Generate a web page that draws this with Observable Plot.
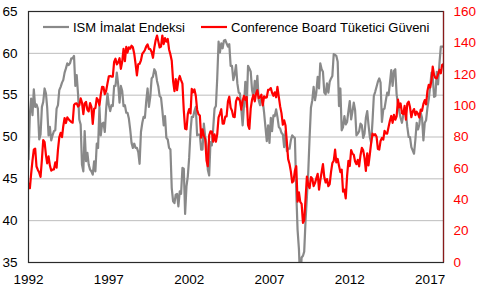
<!DOCTYPE html>
<html>
<head>
<meta charset="utf-8">
<script src="https://cdn.jsdelivr.net/npm/d3@7"></script>
<script src="https://cdn.jsdelivr.net/npm/@observablehq/plot@0.6"></script>
<style>
  html, body { margin: 0; padding: 0; background: #ffffff; }
  #chart { width: 480px; height: 288px; }
</style>
</head>
<body>
<div id="chart"></div>
<script>
// Monthly data, Jan 1992 .. Nov 2017
const startYear = 1992;
const ism = [
  47.3, 52.7, 54.6, 52.6, 55.7, 53.6, 53.9, 53.4, 49.7, 50.3, 53.6, 54.2,
  55.8, 55.2, 53.5, 50.2, 51.2, 49.6, 50.2, 50.7, 50.8, 53.4, 53.8, 55.6,
  56.0, 56.5, 56.8, 57.7, 58.2, 58.8, 58.6, 58.8, 59.4, 59.4, 59.7, 56.1,
  57.4, 55.1, 52.1, 51.5, 46.7, 45.9, 50.7, 47.1, 48.1, 46.7, 46.1, 45.9,
  45.5, 47.1, 45.9, 49.2, 48.7, 53.6, 50.2, 51.6, 51.7, 50.6, 53.4, 55.2,
  53.8, 53.1, 53.8, 53.7, 56.1, 56.1, 57.7, 56.3, 54.1, 56.1, 55.5, 53.7,
  53.8, 52.9, 52.9, 52.2, 50.9, 49.3, 48.7, 49.2, 48.7, 48.7, 48.2, 46.8,
  50.6, 51.7, 52.4, 52.3, 54.3, 55.8, 53.6, 54.8, 57.0, 57.2, 58.1, 57.8,
  56.7, 56.0, 54.9, 54.7, 53.2, 51.4, 52.5, 49.9, 49.7, 48.7, 48.5, 43.9,
  42.3, 42.1, 43.1, 43.2, 41.7, 43.5, 43.2, 46.3, 46.2, 40.8, 44.1, 45.3,
  47.5, 50.7, 52.4, 52.4, 53.1, 53.6, 50.2, 50.3, 50.3, 48.5, 48.5, 51.6,
  50.0, 48.9, 46.1, 45.4, 49.4, 49.0, 51.0, 53.4, 53.7, 57.0, 61.4, 60.1,
  61.2, 60.6, 61.5, 61.6, 61.2, 60.8, 61.1, 58.5, 58.5, 56.8, 57.5, 58.6,
  56.4, 55.3, 55.2, 53.3, 51.4, 53.8, 56.6, 53.6, 58.5, 58.2, 57.8, 55.6,
  54.8, 56.7, 55.2, 57.3, 54.4, 53.8, 54.7, 54.3, 52.9, 51.2, 49.5, 51.4,
  49.3, 52.3, 50.7, 52.6, 52.5, 53.3, 52.4, 51.2, 51.0, 50.5, 50.3, 48.8,
  50.7, 48.3, 48.6, 48.6, 49.6, 50.2, 50.0, 49.9, 43.5, 38.9, 36.6, 32.4,
  35.6, 35.8, 36.3, 40.1, 42.8, 45.8, 49.9, 53.5, 54.4, 56.0, 54.4, 55.3,
  57.2, 55.8, 58.8, 58.1, 57.8, 55.3, 55.1, 56.4, 55.3, 56.6, 57.0, 57.3,
  59.9, 59.8, 59.7, 59.0, 53.7, 55.8, 50.8, 51.2, 52.5, 51.5, 51.8, 53.1,
  54.3, 52.1, 53.0, 54.1, 53.2, 50.2, 50.4, 50.7, 51.6, 51.4, 49.9, 50.4,
  52.3, 53.1, 51.5, 50.0, 49.3, 51.9, 54.9, 55.4, 56.0, 56.6, 57.0, 56.5,
  51.8, 53.3, 53.4, 54.4, 55.3, 55.0, 56.4, 58.0, 56.1, 57.9, 58.1, 55.1,
  53.9, 53.0, 52.3, 51.7, 52.6, 53.2, 52.8, 51.2, 50.0, 50.0, 48.8, 48.4,
  48.0, 49.7, 51.7, 50.9, 51.5, 52.9, 52.3, 49.6, 51.7, 52.0, 53.5, 54.5,
  56.0, 57.7, 57.2, 54.8, 54.9, 57.8, 56.3, 58.8, 60.8, 60.8, 60.8
];
const cb = [
  50.2, 47.3, 56.5, 65.1, 71.9, 72.6, 61.2, 59.0, 57.3, 54.6, 65.6, 78.1,
  76.7, 68.5, 63.2, 67.6, 61.9, 58.6, 59.2, 59.3, 63.8, 60.5, 71.9, 79.8,
  82.6, 79.9, 86.7, 92.1, 88.9, 92.5, 91.3, 90.4, 89.5, 89.1, 100.4, 101.3,
  101.4, 99.4, 100.2, 104.6, 102.0, 94.6, 101.4, 102.4, 97.3, 96.3, 101.6, 99.2,
  88.4, 98.0, 98.4, 104.8, 103.5, 100.1, 107.0, 112.0, 111.8, 107.3, 109.5, 114.2,
  118.7, 118.9, 118.5, 118.5, 127.9, 129.9, 126.3, 127.6, 130.2, 123.4, 128.1, 136.2,
  128.3, 137.4, 133.8, 137.2, 136.3, 138.2, 137.2, 133.1, 126.4, 119.3, 126.4, 126.7,
  128.9, 133.1, 134.0, 135.5, 137.7, 139.0, 136.2, 136.0, 134.2, 130.5, 137.0, 141.7,
  144.7, 140.8, 137.1, 137.7, 144.7, 139.2, 143.0, 140.8, 142.5, 135.8, 132.6, 128.6,
  115.7, 109.2, 116.9, 109.9, 116.1, 118.9, 116.3, 114.0, 97.0, 85.3, 84.9, 94.6,
  97.8, 95.0, 110.7, 108.5, 110.3, 106.3, 97.4, 94.5, 93.7, 79.6, 84.9, 80.7,
  78.8, 64.8, 61.4, 81.0, 83.6, 83.5, 77.0, 81.7, 77.0, 81.7, 92.5, 94.8,
  97.7, 88.5, 88.5, 93.0, 93.1, 102.8, 105.7, 98.7, 96.7, 92.9, 92.6, 102.7,
  105.1, 104.4, 103.0, 97.5, 103.1, 106.2, 103.6, 105.5, 87.5, 85.2, 98.3, 103.8,
  106.8, 102.7, 107.5, 109.8, 104.7, 105.4, 107.0, 100.2, 105.9, 105.1, 105.3, 110.0,
  110.2, 111.2, 108.2, 106.3, 108.5, 105.3, 111.9, 105.6, 99.5, 95.2, 87.8, 90.6,
  87.3, 76.4, 65.9, 62.8, 58.1, 51.0, 51.9, 58.5, 61.4, 38.8, 44.7, 38.6,
  37.4, 25.3, 26.9, 40.8, 54.8, 49.3, 47.4, 54.5, 53.4, 48.7, 50.6, 53.6,
  56.5, 46.4, 52.3, 57.7, 62.7, 54.3, 51.0, 53.2, 48.6, 49.9, 57.8, 63.4,
  64.8, 72.0, 63.8, 66.0, 61.7, 57.6, 59.2, 45.2, 46.4, 40.9, 55.2, 64.8,
  61.5, 71.6, 69.5, 68.7, 64.4, 62.7, 65.4, 61.3, 68.4, 73.1, 71.5, 66.7,
  58.4, 69.6, 61.9, 69.0, 76.2, 82.1, 81.0, 81.8, 80.2, 72.4, 72.0, 77.5,
  79.4, 78.3, 83.9, 82.3, 82.2, 86.4, 90.3, 93.4, 89.0, 94.1, 91.0, 93.1,
  103.8, 98.8, 101.4, 95.2, 94.6, 99.8, 91.0, 101.3, 102.6, 99.1, 92.6, 96.3,
  97.8, 94.0, 96.1, 94.7, 92.4, 97.4, 96.7, 101.1, 103.5, 100.8, 109.4, 113.3,
  111.6, 116.1, 124.9, 119.4, 117.6, 117.3, 120.0, 122.9, 120.6, 125.9, 126.5
];
const seriesNames = ["ISM İmalat Endeksi", "Conference Board Tüketici Güveni"];
const seriesColors = ["#898989", "#ff0000"];
const xTickYears = [1992, 1997, 2002, 2007, 2012, 2017];
const leftTicks = [35, 40, 45, 50, 55, 60, 65];
const rightTicks = [0, 20, 40, 60, 80, 100, 120, 140, 160];
const leftDomain = [35, 65];
const rightDomain = [0, 160];

// map right-axis values onto the left-axis scale
const toLeft = v => leftDomain[0] + (v - rightDomain[0]) * (leftDomain[1] - leftDomain[0]) / (rightDomain[1] - rightDomain[0]);
const toRight = v => rightDomain[0] + (v - leftDomain[0]) * (rightDomain[1] - rightDomain[0]) / (leftDomain[1] - leftDomain[0]);

const dateOf = i => new Date(Date.UTC(startYear, i, 1));
const ismData = ism.map((v, i) => ({date: dateOf(i), value: v}));
const cbData = cb.map((v, i) => ({date: dateOf(i), value: toLeft(v)}));
const xEnd = dateOf(ism.length - 1);

const chart = Plot.plot({
  width: 480,
  height: 288,
  marginLeft: 28,
  marginRight: 37,
  marginTop: 11,
  marginBottom: 26,
  style: {fontFamily: "'Liberation Sans', Arial, sans-serif", fontSize: "13px", background: "#ffffff", color: "#000000"},
  x: {type: "utc", domain: [dateOf(0), xEnd]},
  y: {domain: leftDomain},
  marks: [
    Plot.gridY(leftTicks.slice(1, -1), {stroke: "#bdbdbd", strokeOpacity: 1, strokeWidth: 1}),
    Plot.axisY(leftTicks, {anchor: "left", tickSize: 0, tickPadding: 11, label: null, fontSize: 13.5, color: "#000000"}),
    Plot.axisY(rightTicks.map(toLeft), {anchor: "right", tickSize: 0, tickPadding: 10, label: null, fontSize: 13.5, color: "#ff0000",
      tickFormat: d => String(Math.round(toRight(d)))}),
    Plot.axisX(xTickYears.map(y => new Date(Date.UTC(y, 0, 1))), {anchor: "bottom", tickSize: 0, tickPadding: 12, label: null, fontSize: 13.5,
      tickFormat: d => String(d.getUTCFullYear())}),
    Plot.line(ismData, {x: "date", y: "value", stroke: seriesColors[0], strokeWidth: 2.2, clip: true}),
    Plot.line(cbData, {x: "date", y: "value", stroke: seriesColors[1], strokeWidth: 2.2, clip: true}),
    Plot.frame({stroke: "#2a2a2a", strokeWidth: 1.2}),
    Plot.ruleX([xEnd], {stroke: "#8a1a1a", strokeWidth: 1.2})
  ]
});

// in-plot legend
const svg = d3.select(chart);
const legend = svg.append("g")
  .attr("font-family", "'Liberation Sans', Arial, sans-serif")
  .attr("font-size", 13)
  .attr("text-anchor", "start");
const legendItems = [
  {x0: 43, name: seriesNames[0], color: seriesColors[0]},
  {x0: 201, name: seriesNames[1], color: seriesColors[1]}
];
for (const it of legendItems) {
  legend.append("line").attr("x1", it.x0).attr("x2", it.x0 + 26).attr("y1", 27).attr("y2", 27)
    .attr("stroke", it.color).attr("stroke-width", 2.2);
  legend.append("text").attr("x", it.x0 + 30).attr("y", 27).attr("dy", "0.35em")
    .attr("text-anchor", "start").attr("fill", "#000").text(it.name);
}

document.getElementById("chart").appendChild(chart);
</script>
</body>
</html>
